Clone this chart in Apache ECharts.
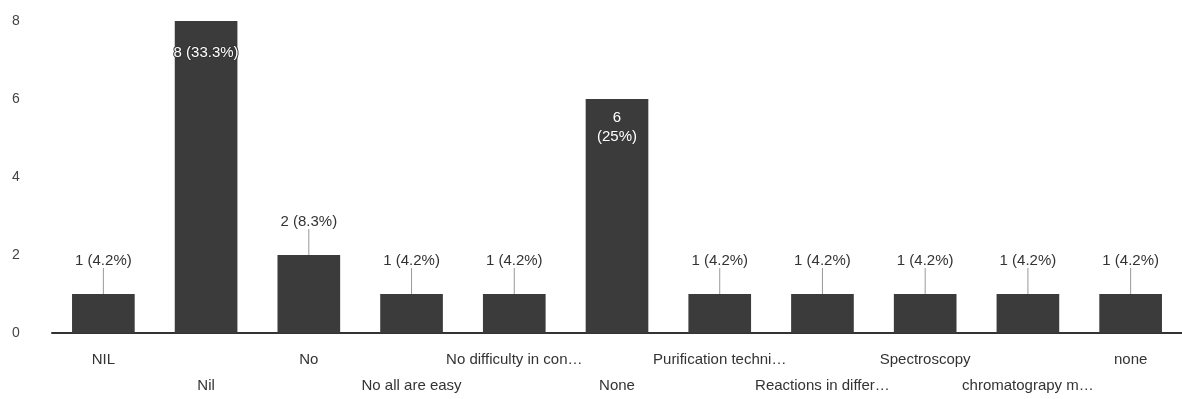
<!DOCTYPE html>
<html><head><meta charset="utf-8">
<script src="https://cdn.jsdelivr.net/npm/echarts@6/dist/echarts.min.js"></script>
<style>html,body{margin:0;padding:0;background:#fff}#c{width:1182px;height:399px}</style>
</head><body><div id="c"></div>
<script>
const categories = ['NIL','Nil','No','No all are easy','No difficulty in con…','None','Purification techni…','Reactions in differ…','Spectroscopy','chromatograpy m…','none'];
const values = [1,8,2,1,1,6,1,1,1,1,1];
const total = 24;
const yTicks = [0,2,4,6,8];

const pct = v => (Math.round(v/total*1000)/10) + '%';
const data = values.map((v,i) => {
  const item = {value: v};
  if (v >= 6) {
    item.label = {
      position: 'insideTop', distance: v === 8 ? 22 : 9, color: '#fff',
      textBorderColor: '#333', textBorderWidth: v === 8 ? 2 : 0,
      fontSize: 15,
      formatter: v === 8 ? (p => p.value + ' (' + pct(p.value) + ')') : (p => p.value + '\n(' + pct(p.value) + ')'),
      lineHeight: 19
    };
    item.labelLine = {show: false};
  }
  return item;
});

const chart = echarts.init(document.getElementById('c'));
chart.setOption({
  animation: false,
  textStyle: {fontFamily: 'Liberation Sans, Arial, sans-serif'},
  grid: {left: 52, right: 0, top: 21, bottom: 59, containLabel: false},
  xAxis: {
    type: 'category', data: categories,
    axisTick: {show: false},
    axisLine: {lineStyle: {color: '#333', width: 2}},
    axisLabel: {
      interval: 0, color: '#333', fontSize: 15, margin: 14, lineHeight: 26,
      formatter: (val, i) => i % 2 === 1 ? '\n' + val : val
    }
  },
  yAxis: {
    type: 'value', min: 0, max: 8, interval: 2,
    splitLine: {show: false},
    axisLine: {show: false}, axisTick: {show: false},
    axisLabel: {color: '#444', fontSize: 14, margin: 40, align: 'left',
      formatter: v => yTicks.includes(v) ? String(v) : ''}
  },
  series: [{
    type: 'bar', data: data, barWidth: '61%',
    itemStyle: {color: '#3b3b3b'},
    label: {
      show: true, position: 'top', distance: 4, color: '#333', fontSize: 15,
      formatter: p => p.value + ' (' + pct(p.value) + ')'
    },
    labelLayout: p => (values[p.dataIndex] >= 6 ? {dy: 0} : {dy: -22}),
    labelLine: {show: true, lineStyle: {color: '#999', width: 1}}
  }]
});
</script></body></html>
